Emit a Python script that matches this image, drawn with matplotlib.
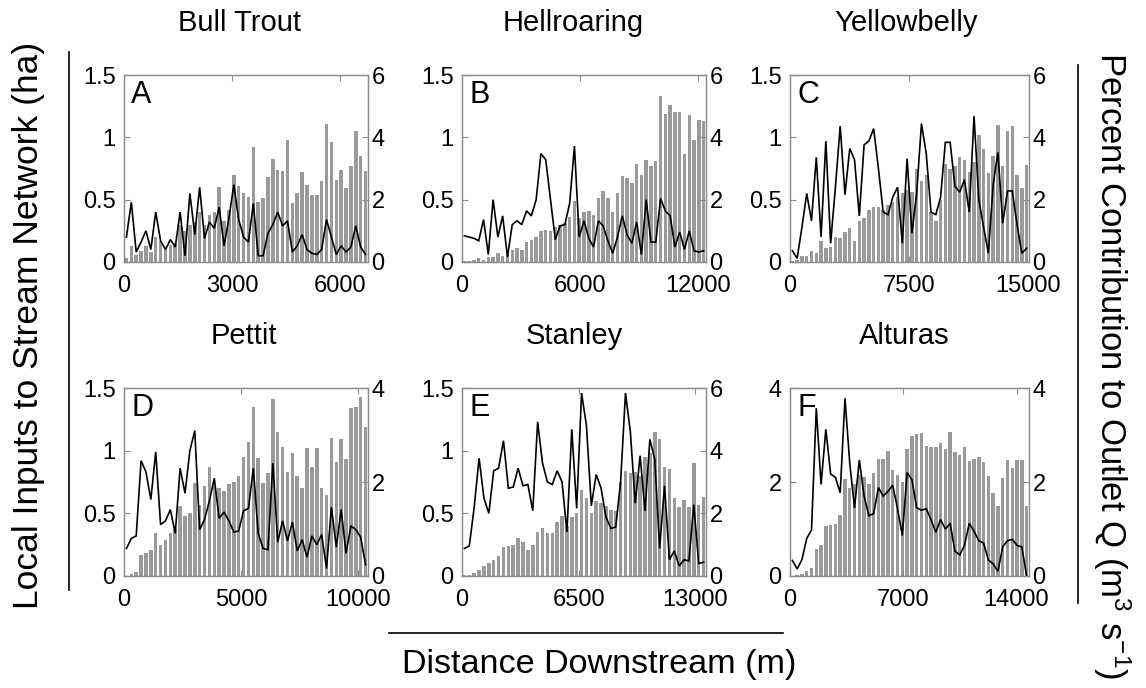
import matplotlib
matplotlib.use("Agg")
import matplotlib.pyplot as plt
from matplotlib.lines import Line2D
import numpy as np

plt.rcParams['font.family'] = ['Liberation Sans', 'DejaVu Sans']
plt.rcParams['mathtext.fontset'] = 'custom'
plt.rcParams['mathtext.rm'] = 'Liberation Sans'
plt.rcParams['mathtext.it'] = 'Liberation Sans:italic'

# ---- data -----------------------------------------------------------------
stream_names = ["Bull Trout", "Hellroaring", "Yellowbelly", "Pettit", "Stanley", "Alturas"]
panel_letters = ["A", "B", "C", "D", "E", "F"]
stream_length_m = [6780, 12420, 15030, 10410, 13600, 14770]

x_ticks = [[0, 3000, 6000], [0, 6000, 12000], [0, 7500, 15000],
           [0, 5000, 10000], [0, 6500, 13000], [0, 7000, 14000]]

left_ticks = [[0, 0.5, 1, 1.5]] * 5 + [[0, 2, 4]]
left_ticklabels = [["0", "0.5", "1", "1.5"]] * 5 + [["0", "2", "4"]]
right_ticks = [[0, 2, 4, 6]] * 3 + [[0, 2, 4], [0, 2, 4, 6], [0, 2, 4]]

# local inputs to the stream network (ha), one value per segment
local_bull = [0.20, 0.48, 0.08, 0.16, 0.25, 0.10, 0.40, 0.17, 0.10, 0.18,
              0.12, 0.40, 0.05, 0.55, 0.22, 0.60, 0.19, 0.32, 0.27, 0.44,
              0.13, 0.35, 0.62, 0.34, 0.20, 0.16, 0.47, 0.05, 0.05, 0.23,
              0.30, 0.40, 0.29, 0.33, 0.08, 0.13, 0.22, 0.10, 0.07, 0.06,
              0.10, 0.34, 0.20, 0.06, 0.13, 0.08, 0.12, 0.29, 0.12, 0.06]
local_hell = [0.21, 0.20, 0.19, 0.17, 0.34, 0.06, 0.50, 0.20, 0.37, 0.04,
              0.30, 0.33, 0.30, 0.41, 0.37, 0.50, 0.87, 0.82, 0.50, 0.18,
              0.29, 0.30, 0.47, 0.93, 0.20, 0.33, 0.19, 0.12, 0.33, 0.29,
              0.17, 0.07, 0.20, 0.37, 0.22, 0.15, 0.32, 0.06, 0.50, 0.16,
              0.16, 0.51, 0.41, 0.37, 0.12, 0.24, 0.10, 0.25, 0.09, 0.08, 0.09]
local_yell = [0.09, 0.03, 0.28, 0.55, 0.33, 0.84, 0.20, 0.97, 0.15, 0.60,
              1.09, 0.54, 0.91, 0.82, 0.37, 0.94, 0.97, 1.07, 0.75, 0.40,
              0.38, 0.52, 0.60, 0.15, 0.83, 0.23, 0.55, 1.11, 0.87, 0.40,
              0.38, 0.52, 0.96, 0.96, 0.61, 0.56, 0.66, 0.40, 1.17, 0.50,
              0.28, 0.07, 0.62, 0.88, 0.31, 0.57, 0.57, 0.30, 0.07, 0.11]
local_pett = [0.22, 0.30, 0.32, 0.92, 0.83, 0.61, 0.99, 0.41, 0.44, 0.53,
              0.34, 0.86, 0.66, 1.00, 1.16, 0.37, 0.45, 0.60, 0.78, 0.46,
              0.51, 0.44, 0.35, 0.36, 0.52, 0.54, 0.86, 0.34, 0.22, 0.21,
              0.90, 0.27, 0.44, 0.28, 0.43, 0.20, 0.29, 0.15, 0.32, 0.25,
              0.33, 0.06, 0.55, 0.23, 0.53, 0.18, 0.40, 0.37, 0.31, 0.09]
local_stan = [0.22, 0.24, 0.55, 0.94, 0.62, 0.50, 0.84, 0.86, 1.08, 0.70,
              0.71, 0.86, 0.72, 0.73, 0.52, 1.23, 0.90, 0.75, 0.73, 0.84,
              0.75, 0.35, 1.17, 0.54, 1.46, 1.20, 0.56, 0.81, 0.70, 0.47,
              0.38, 0.39, 0.75, 1.46, 1.15, 0.58, 0.96, 0.52, 1.09, 0.93,
              0.22, 0.72, 0.13, 0.20, 0.08, 0.13, 0.12, 0.57, 0.10, 0.11]
local_altu = [0.33, 0.15, 0.35, 0.80, 0.98, 3.57, 1.95, 3.12, 2.17, 2.10,
              1.77, 3.78, 2.40, 1.45, 2.47, 1.70, 1.28, 1.33, 1.88, 1.70,
              1.80, 1.93, 1.43, 0.86, 2.20, 2.05, 1.45, 1.40, 1.43, 1.20,
              0.93, 1.20, 1.00, 1.12, 0.53, 0.45, 0.65, 1.12, 0.95, 0.75,
              0.70, 0.34, 0.26, 0.10, 0.62, 0.75, 0.78, 0.65, 0.62, 0.00]

# percent contribution of each segment to outlet discharge
pct_bull = [0.12, 0.52, 0.24, 0.36, 0.52, 0.32, 0.80, 0.68, 0.40, 0.56,
            0.60, 1.20, 1.00, 1.20, 1.28, 1.60, 1.20, 1.52, 1.60, 2.40,
            1.32, 1.68, 2.80, 2.44, 2.20, 2.08, 3.68, 1.92, 2.04, 2.72,
            3.32, 2.96, 2.92, 3.92, 1.88, 2.20, 2.88, 2.48, 2.16, 2.16,
            2.60, 4.44, 3.84, 2.64, 2.96, 2.36, 3.08, 4.20, 3.40, 2.92]
pct_hell = [0.02, 0.04, 0.06, 0.12, 0.08, 0.16, 0.16, 0.28, 0.20, 0.32,
            0.40, 0.44, 0.40, 0.64, 0.72, 0.80, 1.00, 1.04, 1.00, 1.12,
            1.20, 1.24, 1.44, 1.96, 1.40, 1.60, 1.64, 1.52, 2.04, 2.28,
            2.04, 1.60, 2.20, 2.76, 2.68, 2.52, 3.16, 2.80, 3.28, 3.08,
            3.24, 5.32, 4.76, 5.04, 4.80, 4.80, 3.48, 4.72, 3.92, 4.56, 4.52]
pct_yell = [0.04, 0.08, 0.20, 0.20, 0.36, 0.28, 0.68, 0.44, 0.48, 0.80,
            0.76, 0.96, 1.08, 0.68, 1.32, 1.40, 1.68, 1.76, 1.76, 1.68,
            1.84, 1.92, 2.08, 2.20, 2.32, 2.24, 3.00, 2.60, 2.80, 1.60,
            1.32, 2.00, 3.16, 3.00, 3.08, 3.36, 3.28, 2.88, 3.20, 4.08,
            3.64, 2.84, 3.40, 4.40, 3.08, 4.20, 4.36, 2.80, 2.36, 3.12]
pct_pett = [0.00, 0.05, 0.08, 0.45, 0.48, 0.56, 0.91, 0.67, 0.77, 0.91,
            1.01, 1.49, 1.28, 1.33, 1.97, 1.52, 1.92, 2.32, 1.92, 1.87,
            1.81, 1.95, 2.00, 2.13, 2.53, 2.85, 3.60, 2.51, 1.97, 2.19,
            3.76, 3.07, 2.75, 2.21, 2.61, 2.13, 1.87, 2.72, 2.32, 2.72,
            1.87, 1.73, 2.93, 2.43, 2.91, 2.48, 3.57, 3.60, 3.81, 3.17]
pct_stan = [0.02, 0.04, 0.08, 0.20, 0.32, 0.40, 0.52, 0.64, 0.92, 0.96,
            1.00, 1.20, 1.08, 0.84, 1.00, 1.40, 1.52, 1.36, 1.36, 1.72,
            1.92, 1.60, 1.88, 2.00, 2.76, 2.48, 2.00, 2.40, 2.32, 2.24,
            2.12, 2.08, 3.00, 3.36, 3.28, 3.32, 3.20, 3.80, 3.92,
            4.60, 4.36, 3.48, 3.40, 2.48, 2.20, 2.44, 2.20, 3.60, 2.28, 2.52]
pct_altu = [0.00, 0.02, 0.04, 0.10, 0.16, 0.57, 0.65, 1.07, 1.08, 1.10,
            1.30, 2.07, 1.87, 1.95, 2.15, 2.10, 1.95, 2.20, 2.50, 2.48,
            2.66, 2.25, 2.15, 2.00, 2.70, 2.97, 3.03, 3.05, 2.77, 2.74,
            2.74, 2.83, 2.70, 3.07, 2.63, 2.57, 2.75, 2.44, 2.48, 2.54,
            2.42, 2.12, 1.77, 1.48, 2.09, 2.46, 2.30, 2.47, 2.47, 1.48]

local_inputs = [local_bull, local_hell, local_yell, local_pett, local_stan, local_altu]
pct_contrib = [pct_bull, pct_hell, pct_yell, pct_pett, pct_stan, pct_altu]

# ---- layout (pixel boxes: left, top, right, bottom) -----------------------
W, H = 1146, 688
fig = plt.figure(figsize=(W / 100, H / 100), dpi=100)
col_x = [(124, 368), (462, 706), (790, 1029)]
row_y = [(75, 262), (388, 576)]
title_x = [239, 573, 906, 244, 574, 904]

BAR_GREY = "#9a9a9a"
SPINE_GREY = "#8c8c8c"
TICK_FS = 17


def add_axes_px(left, top, right, bottom):
    return fig.add_axes([left / W, 1 - bottom / H, (right - left) / W, (bottom - top) / H])


for k in range(6):
    r, c = divmod(k, 3)
    x0, x1 = col_x[c]
    y0, y1 = row_y[r]
    ax = add_axes_px(x0, y0, x1, y1)
    ax2 = ax.twinx()

    n = len(pct_contrib[k])
    seg = stream_length_m[k] / n
    xs = (np.arange(n) + 0.5) * seg

    ax2.bar(xs, pct_contrib[k], width=seg * 0.72, color=BAR_GREY, linewidth=0)
    ax.plot(xs, local_inputs[k], color="black", lw=1.2, solid_joinstyle="miter")

    ax.set_zorder(ax2.get_zorder() + 1)
    ax.patch.set_visible(False)

    ax.set_xlim(0, stream_length_m[k])
    lt = left_ticks[k]
    rt = right_ticks[k]
    ax.set_ylim(0, lt[-1])
    ax2.set_ylim(0, rt[-1])
    ax.set_xticks(x_ticks[k])
    ax.set_xticklabels([str(v) for v in x_ticks[k]])
    ax.set_yticks(lt)
    ax.set_yticklabels(left_ticklabels[k])
    ax2.set_yticks(rt)
    ax2.set_yticklabels([str(v) for v in rt])

    for a in (ax, ax2):
        for s in a.spines.values():
            s.set_color(SPINE_GREY)
            s.set_linewidth(0.9)
    ax.tick_params(axis="x", direction="in", length=4, width=0.8, color=SPINE_GREY,
                   labelsize=TICK_FS, pad=9, top=True)
    ax.tick_params(axis="y", direction="in", length=4, width=0.8, color=SPINE_GREY,
                   labelsize=TICK_FS, pad=6)
    ax2.tick_params(axis="y", direction="in", length=4, width=0.8, color=SPINE_GREY,
                    labelsize=TICK_FS, pad=2.5)

    ax.text(0.03, 0.975, panel_letters[k], transform=ax.transAxes,
            ha="left", va="top", fontsize=22)
    fig.text(title_x[k] / W, 1 - (y0 - 52) / H, stream_names[k],
             ha="center", va="center", fontsize=21)

# ---- shared axis labels and their rules -----------------------------------
fig.text(29 / W, 1 - 325 / H, "Local Inputs to Stream Network (ha)",
         rotation=90, ha="center", va="center", fontsize=25.5)
fig.add_artist(Line2D([69 / W, 69 / W], [1 - 52 / H, 1 - 590 / H],
                      transform=fig.transFigure, color="black", lw=1.2))

fig.text(1112 / W, 1 - 366 / H, r"Percent Contribution to Outlet Q (m$^{3}$ s$^{-1}$)",
         rotation=-90, ha="center", va="center", fontsize=25)
fig.add_artist(Line2D([1078 / W, 1078 / W], [1 - 65 / H, 1 - 603 / H],
                      transform=fig.transFigure, color="black", lw=1.2))

fig.text(599 / W, 1 - 665 / H, "Distance Downstream (m)",
         ha="center", va="center", fontsize=24.6)
fig.add_artist(Line2D([389 / W, 783 / W], [1 - 633 / H, 1 - 633 / H],
                      transform=fig.transFigure, color="black", lw=1.2))

fig.savefig("out.png", dpi=100)
